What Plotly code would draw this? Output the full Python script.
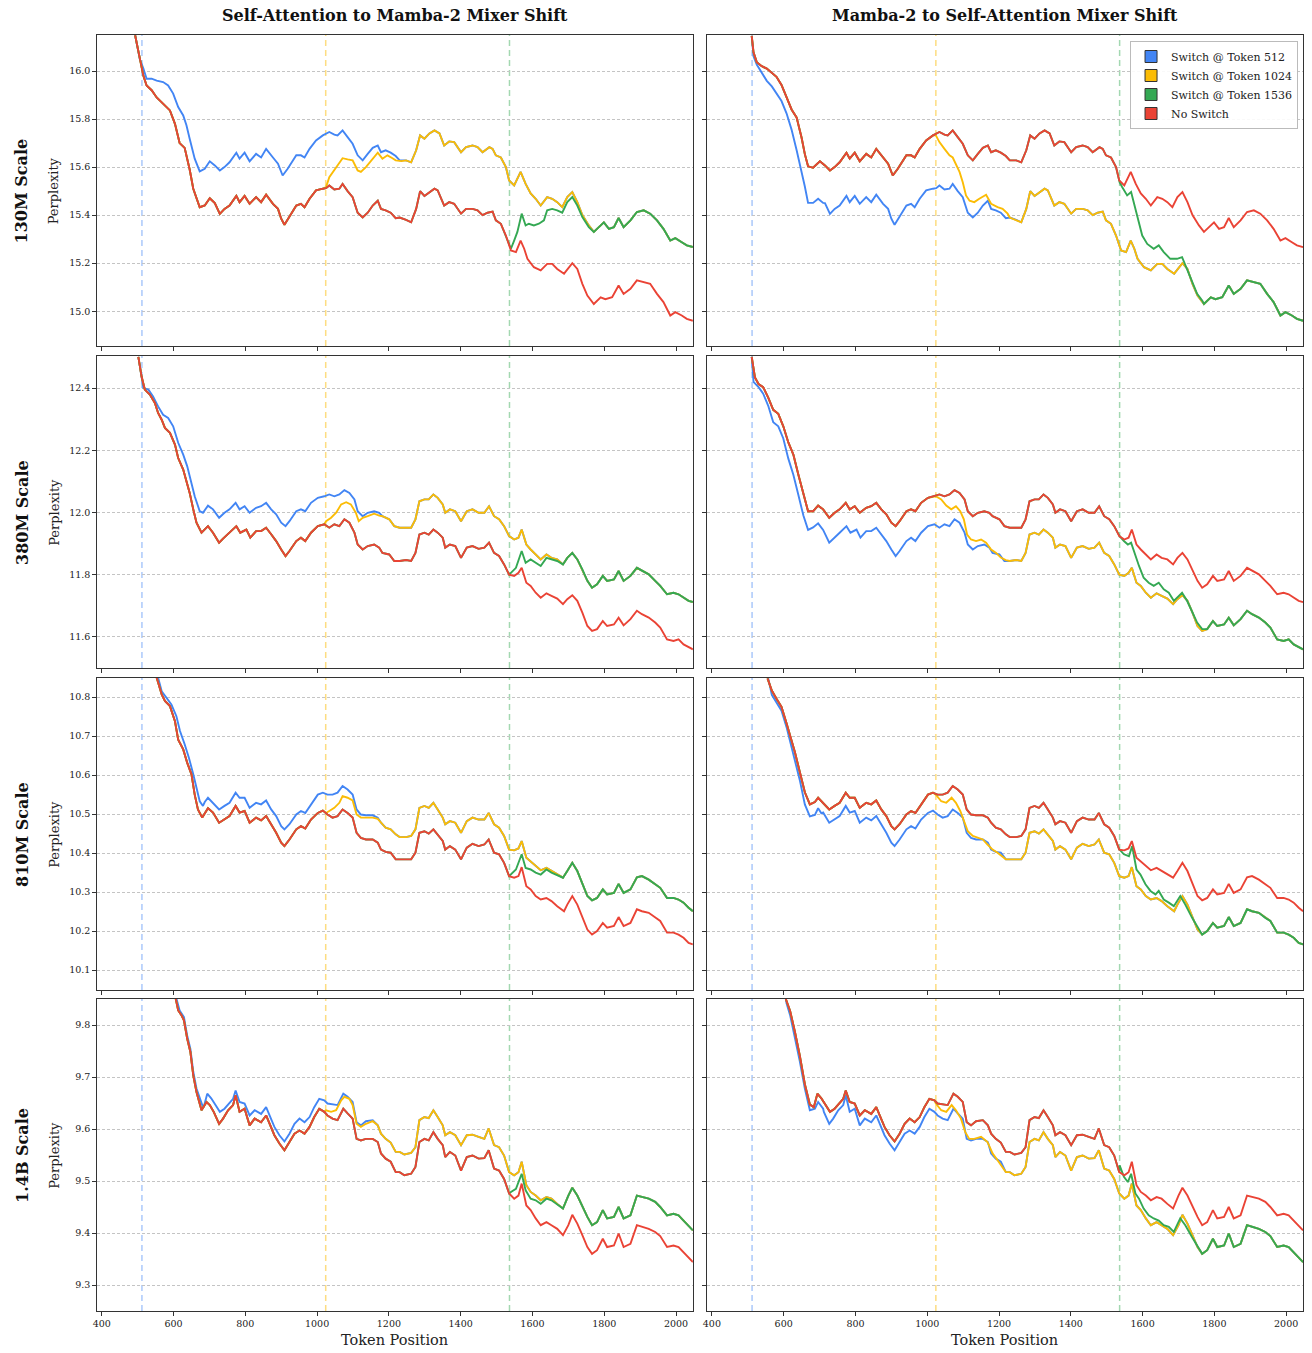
import plotly.graph_objects as go

# ---------------- data (token, perplexity) ----------------
# A = pure self-attention curve, B = pure Mamba-2 curve, L* = left-column switch transitions,
# R* = right-column switch transitions
A_130M = [(493,16.149),(506,16.05),(516,15.98),(525,15.94),(539,15.92),(553,15.89),(571,15.864),(590,15.836),(604,15.78),(617,15.70),(631,15.68),(645,15.59),(655,15.51),(664,15.47),(673,15.433),(687,15.44),(701,15.47),(715,15.45),(729,15.405),(742,15.426),(756,15.44),(775,15.48),(784,15.454),(798,15.48),(812,15.447),(830,15.475),(844,15.454),(858,15.485),(877,15.447),(891,15.426),(900,15.385),(909,15.36),(923,15.392),(942,15.44),(955,15.447),(965,15.433),(979,15.468),(997,15.503),(1016,15.51),(1025,15.512),(1034,15.523),(1048,15.507),(1062,15.51),(1071,15.53),(1085,15.50),(1099,15.475),(1113,15.41),(1127,15.39),(1141,15.41),(1155,15.44),(1169,15.46),(1178,15.426),(1191,15.42),(1205,15.41),(1219,15.387),(1230,15.39),(1248,15.38),(1262,15.37),(1276,15.426),(1287,15.50),(1299,15.48),(1313,15.496),(1327,15.51),(1336,15.503),(1354,15.44),(1368,15.454),(1382,15.447),(1401,15.406),(1415,15.426),(1433,15.426),(1447,15.42),(1461,15.40),(1475,15.41),(1489,15.415),(1498,15.378),(1512,15.364),(1526,15.315),(1540,15.253),(1554,15.246),(1567,15.294),(1577,15.26),(1586,15.218),(1604,15.183),(1623,15.17),(1641,15.197),(1655,15.197),(1669,15.176),(1688,15.156),(1711,15.20),(1725,15.176),(1739,15.114),(1753,15.065),(1771,15.03),(1790,15.058),(1803,15.05),(1822,15.058),(1840,15.107),(1854,15.072),(1873,15.093),(1891,15.128),(1910,15.12),(1928,15.114),(1947,15.072),(1965,15.038),(1984,14.982),(1998,14.996),(2016,14.982),(2030,14.968),(2047,14.96)]
B_130M = [(511,16.146),(516,16.078),(525,16.037),(539,16.02),(553,16.01),(567,15.993),(580,15.976),(594,15.942),(608,15.89),(622,15.84),(636,15.807),(650,15.722),(659,15.654),(668,15.603),(682,15.597),(701,15.624),(715,15.607),(729,15.586),(742,15.60),(756,15.62),(775,15.66),(784,15.635),(798,15.66),(812,15.624),(830,15.655),(844,15.64),(858,15.676),(877,15.64),(891,15.614),(904,15.565),(918,15.593),(942,15.649),(955,15.649),(965,15.64),(979,15.676),(997,15.711),(1016,15.732),(1034,15.746),(1048,15.735),(1057,15.732),(1071,15.753),(1085,15.725),(1099,15.697),(1113,15.649),(1127,15.628),(1141,15.655),(1155,15.68),(1169,15.69),(1178,15.662),(1191,15.67),(1205,15.66),(1219,15.646),(1230,15.628),(1248,15.628),(1262,15.62),(1276,15.67),(1287,15.732),(1299,15.718),(1313,15.74),(1327,15.753),(1341,15.74),(1354,15.69),(1368,15.707),(1382,15.704),(1401,15.662),(1415,15.683),(1433,15.69),(1447,15.683),(1461,15.662),(1480,15.683),(1489,15.676),(1498,15.649),(1512,15.64),(1526,15.60),(1535,15.544),(1549,15.524),(1567,15.58),(1581,15.53),(1595,15.49),(1609,15.468),(1623,15.44),(1641,15.475),(1655,15.468),(1669,15.454),(1683,15.433),(1697,15.475),(1711,15.496),(1725,15.454),(1739,15.40),(1757,15.357),(1771,15.33),(1785,15.35),(1799,15.37),(1813,15.343),(1827,15.35),(1840,15.388),(1854,15.35),(1873,15.378),(1891,15.413),(1910,15.42),(1928,15.406),(1947,15.378),(1965,15.343),(1984,15.294),(1998,15.304),(2016,15.287),(2030,15.274),(2047,15.267)]
L512_130M = [(516,16.01),(525,15.968),(539,15.968),(553,15.96),(571,15.954),(585,15.94),(599,15.906),(613,15.85),(627,15.815),(636,15.774),(645,15.718),(659,15.635),(673,15.582),(687,15.593)]
L1024_130M = [(1025,15.517),(1034,15.558),(1048,15.586),(1062,15.614),(1071,15.637),(1085,15.632),(1099,15.628),(1113,15.586),(1122,15.58),(1136,15.60),(1155,15.635),(1169,15.66),(1182,15.635),(1196,15.649),(1210,15.637),(1219,15.628),(1235,15.625)]
L1536_130M = [(1540,15.26),(1549,15.294),(1558,15.33),(1570,15.406),(1581,15.357),(1590,15.364),(1604,15.357),(1618,15.364),(1632,15.378),(1641,15.42),(1655,15.426),(1669,15.42),(1683,15.41),(1697,15.454),(1711,15.475),(1725,15.44),(1739,15.392),(1757,15.35)]
R512_130M = [(516,16.061),(525,16.027),(539,15.993),(553,15.959),(567,15.936),(580,15.908),(594,15.875),(608,15.824),(622,15.756),(636,15.671),(650,15.586),(659,15.519),(668,15.451),(682,15.451),(696,15.468),(710,15.451)]
R1024_130M = [(1024,15.732),(1034,15.704),(1048,15.676),(1062,15.649),(1071,15.64),(1080,15.614),(1090,15.58),(1099,15.537),(1108,15.482),(1118,15.46),(1131,15.454),(1145,15.468),(1164,15.485),(1178,15.447),(1196,15.433),(1210,15.426),(1224,15.406)]
R1536_130M = [(1536,15.537),(1543,15.517),(1557,15.482),(1568,15.496),(1580,15.426),(1590,15.364),(1599,15.315),(1613,15.28),(1631,15.26),(1645,15.274),(1659,15.246),(1677,15.218),(1696,15.218),(1710,15.225),(1724,15.176),(1738,15.12),(1752,15.072),(1766,15.044)]

A_380M = [(502,12.50),(511,12.437),(520,12.395),(534,12.379),(548,12.352),(557,12.32),(567,12.298),(576,12.272),(590,12.256),(604,12.218),(613,12.175),(627,12.138),(636,12.10),(645,12.063),(655,12.01),(664,11.967),(678,11.935),(696,11.956),(710,11.935),(727,11.903),(738,11.916),(756,11.935),(775,11.956),(786,11.935),(803,11.945),(814,11.919),(830,11.94),(844,11.94),(858,11.951),(872,11.93),(886,11.908),(900,11.881),(912,11.86),(923,11.876),(942,11.908),(955,11.919),(967,11.908),(983,11.935),(1002,11.956),(1020,11.962),(1034,11.951),(1048,11.962),(1062,11.956),(1076,11.978),(1090,11.967),(1104,11.935),(1113,11.897),(1127,11.881),(1141,11.892),(1159,11.897),(1173,11.887),(1182,11.87),(1201,11.865),(1215,11.844),(1230,11.844),(1248,11.847),(1262,11.844),(1274,11.87),(1285,11.929),(1299,11.935),(1311,11.929),(1324,11.945),(1336,11.935),(1350,11.919),(1357,11.887),(1370,11.897),(1385,11.892),(1401,11.854),(1417,11.887),(1433,11.892),(1450,11.883),(1466,11.887),(1479,11.903),(1493,11.87),(1507,11.86),(1521,11.833),(1535,11.80),(1549,11.796),(1561,11.806),(1570,11.822),(1583,11.774),(1595,11.764),(1609,11.742),(1623,11.726),(1639,11.74),(1653,11.732),(1669,11.723),(1685,11.705),(1697,11.721),(1711,11.734),(1725,11.716),(1739,11.678),(1753,11.635),(1766,11.619),(1780,11.625),(1796,11.651),(1808,11.635),(1827,11.64),(1840,11.662),(1854,11.637),(1873,11.657),(1891,11.684),(1905,11.673),(1924,11.662),(1942,11.646),(1956,11.63),(1975,11.592),(1993,11.587),(2007,11.592),(2021,11.576),(2035,11.566),(2047,11.56)]
B_380M = [(511,12.50),(520,12.434),(530,12.413),(543,12.403),(557,12.369),(571,12.33),(585,12.317),(599,12.277),(613,12.225),(627,12.186),(641,12.121),(655,12.056),(668,12.004),(682,12.004),(696,12.022),(710,12.01),(727,11.983),(742,11.999),(756,12.01),(773,12.031),(784,12.01),(798,12.02),(812,11.999),(830,12.015),(844,12.02),(858,12.031),(872,12.01),(886,11.994),(900,11.967),(912,11.956),(923,11.972),(942,12.004),(955,12.01),(967,12.004),(983,12.031),(1002,12.047),(1020,12.052),(1034,12.058),(1048,12.052),(1062,12.058),(1076,12.072),(1090,12.063),(1104,12.042),(1113,12.004),(1127,11.988),(1141,11.999),(1159,12.004),(1173,11.999),(1182,11.988),(1201,11.978),(1215,11.956),(1230,11.951),(1248,11.951),(1262,11.951),(1274,11.978),(1285,12.036),(1299,12.042),(1311,12.042),(1324,12.058),(1336,12.047),(1350,12.026),(1357,11.999),(1370,12.01),(1385,12.004),(1401,11.972),(1417,12.004),(1433,12.01),(1450,11.999),(1466,11.999),(1479,12.02),(1493,11.988),(1507,11.978),(1521,11.956),(1535,11.924),(1549,11.913),(1561,11.919),(1570,11.945),(1583,11.897),(1595,11.881),(1609,11.865),(1623,11.849),(1639,11.865),(1653,11.854),(1669,11.849),(1685,11.833),(1697,11.854),(1711,11.87),(1725,11.849),(1739,11.817),(1753,11.78),(1766,11.758),(1780,11.769),(1796,11.796),(1808,11.78),(1827,11.785),(1840,11.812),(1854,11.78),(1873,11.796),(1891,11.822),(1905,11.812),(1924,11.801),(1942,11.78),(1956,11.764),(1975,11.737),(1993,11.742),(2007,11.737),(2021,11.726),(2035,11.716),(2047,11.712)]
L512_380M = [(516,12.40),(530,12.395),(543,12.373),(557,12.341),(571,12.314),(585,12.304),(599,12.277),(613,12.224),(627,12.186),(638,12.149),(647,12.106),(659,12.052),(673,12.004),(682,11.999)]
L1024_380M = [(1025,11.972),(1039,11.983),(1053,11.999),(1067,12.026),(1081,12.033),(1094,12.026),(1108,11.999),(1116,11.972),(1127,11.983),(1141,11.988),(1159,11.996),(1173,11.99)]
L1536_380M = [(1540,11.806),(1554,11.822),(1570,11.876),(1581,11.838),(1595,11.849),(1609,11.838),(1623,11.828),(1639,11.854),(1653,11.849),(1669,11.844)]
R512_380M = [(516,12.42),(530,12.403),(543,12.382),(557,12.343),(571,12.29),(585,12.277),(599,12.238),(613,12.173),(627,12.121),(641,12.056),(655,11.99),(668,11.944),(682,11.952),(696,11.965),(710,11.944)]
R1024_380M = [(1024,12.052),(1039,12.042),(1053,12.022),(1067,12.01),(1080,12.02),(1092,12.004),(1102,11.978),(1111,11.929),(1122,11.913),(1136,11.908),(1150,11.913),(1164,11.903),(1178,11.881),(1192,11.87),(1205,11.855),(1219,11.847)]
R1536_380M = [(1536,11.924),(1548,11.908),(1559,11.897),(1568,11.903),(1580,11.86),(1590,11.828),(1603,11.79),(1617,11.774),(1631,11.764),(1645,11.774),(1659,11.753),(1673,11.742),(1687,11.716),(1701,11.732),(1710,11.742),(1724,11.716),(1738,11.678),(1752,11.646),(1766,11.625)]

A_810M = [(553,10.85),(567,10.807),(576,10.79),(590,10.777),(604,10.738),(613,10.691),(627,10.666),(638,10.632),(650,10.602),(659,10.55),(668,10.512),(680,10.491),(696,10.515),(710,10.504),(727,10.478),(742,10.486),(756,10.495),(773,10.521),(784,10.504),(798,10.508),(812,10.478),(830,10.491),(844,10.484),(858,10.495),(872,10.474),(886,10.452),(900,10.427),(909,10.418),(923,10.435),(942,10.461),(955,10.469),(967,10.463),(983,10.486),(1002,10.503),(1016,10.509),(1029,10.499),(1043,10.491),(1057,10.495),(1071,10.512),(1085,10.503),(1099,10.491),(1110,10.452),(1122,10.439),(1136,10.435),(1155,10.435),(1169,10.427),(1178,10.409),(1191,10.403),(1205,10.401),(1219,10.384),(1230,10.384),(1248,10.384),(1262,10.384),(1274,10.401),(1285,10.452),(1299,10.456),(1311,10.45),(1324,10.461),(1336,10.448),(1350,10.431),(1357,10.409),(1370,10.418),(1385,10.409),(1401,10.384),(1417,10.414),(1433,10.424),(1450,10.418),(1466,10.422),(1478,10.435),(1493,10.401),(1507,10.397),(1521,10.375),(1535,10.341),(1549,10.337),(1561,10.341),(1570,10.364),(1583,10.315),(1595,10.307),(1609,10.29),(1623,10.281),(1639,10.285),(1653,10.277),(1669,10.264),(1688,10.251),(1697,10.268),(1711,10.29),(1725,10.268),(1739,10.234),(1753,10.204),(1766,10.191),(1780,10.2),(1796,10.221),(1808,10.209),(1827,10.213),(1840,10.236),(1854,10.213),(1873,10.221),(1891,10.256),(1905,10.251),(1924,10.247),(1942,10.234),(1956,10.226),(1975,10.196),(1993,10.196),(2007,10.191),(2021,10.183),(2035,10.17),(2047,10.166)]
B_810M = [(555,10.848),(567,10.817),(580,10.796),(594,10.775),(608,10.733),(618,10.702),(631,10.66),(645,10.608),(659,10.556),(673,10.525),(687,10.531),(696,10.542),(710,10.529),(727,10.512),(742,10.521),(756,10.529),(773,10.555),(784,10.542),(798,10.542),(812,10.516),(830,10.529),(844,10.525),(858,10.535),(872,10.512),(886,10.495),(900,10.469),(909,10.461),(923,10.474),(942,10.499),(955,10.508),(967,10.503),(983,10.525),(1002,10.55),(1016,10.555),(1029,10.55),(1043,10.55),(1057,10.555),(1071,10.572),(1085,10.563),(1099,10.55),(1110,10.512),(1122,10.499),(1136,10.497),(1155,10.497),(1169,10.491),(1178,10.478),(1191,10.465),(1205,10.461),(1219,10.448),(1230,10.441),(1248,10.441),(1262,10.444),(1274,10.461),(1285,10.516),(1299,10.521),(1311,10.516),(1324,10.529),(1336,10.512),(1350,10.491),(1357,10.474),(1370,10.482),(1385,10.478),(1401,10.452),(1417,10.482),(1433,10.491),(1450,10.486),(1466,10.486),(1478,10.503),(1493,10.474),(1507,10.465),(1521,10.444),(1535,10.409),(1549,10.407),(1561,10.412),(1570,10.431),(1583,10.388),(1595,10.379),(1609,10.367),(1623,10.356),(1639,10.362),(1653,10.354),(1669,10.345),(1685,10.337),(1697,10.354),(1711,10.375),(1725,10.354),(1739,10.32),(1753,10.29),(1766,10.279),(1780,10.285),(1796,10.307),(1808,10.294),(1827,10.298),(1840,10.321),(1854,10.298),(1873,10.307),(1891,10.338),(1905,10.341),(1924,10.332),(1942,10.32),(1956,10.311),(1975,10.285),(1993,10.285),(2007,10.281),(2021,10.273),(2035,10.26),(2047,10.251)]
L512_810M = [(557,10.85),(567,10.815),(580,10.798),(594,10.781),(608,10.751),(618,10.713),(631,10.679),(643,10.644),(655,10.602),(664,10.563),(673,10.533),(682,10.521)]
L1024_810M = [(1025,10.503),(1034,10.508),(1048,10.516),(1062,10.529),(1071,10.546),(1085,10.542),(1099,10.535),(1110,10.499),(1122,10.491),(1136,10.491),(1155,10.491),(1169,10.488)]
L1536_810M = [(1540,10.345),(1554,10.358),(1570,10.397),(1581,10.362),(1595,10.358),(1609,10.35),(1623,10.345),(1639,10.358),(1653,10.35),(1669,10.344)]
R512_810M = [(557,10.848),(567,10.806),(580,10.785),(594,10.765),(608,10.723),(618,10.685),(631,10.64),(645,10.587),(659,10.525),(673,10.494),(687,10.498),(696,10.515),(705,10.502)]
R1024_810M = [(1024,10.55),(1039,10.533),(1053,10.529),(1068,10.542),(1080,10.529),(1092,10.508),(1104,10.478),(1113,10.456),(1127,10.444),(1141,10.439),(1155,10.435),(1168,10.422),(1182,10.409),(1196,10.401),(1210,10.39)]
R1536_810M = [(1536,10.409),(1548,10.397),(1562,10.392),(1571,10.418),(1583,10.358),(1594,10.345),(1608,10.32),(1622,10.303),(1636,10.294),(1645,10.303),(1659,10.281),(1673,10.273),(1687,10.264),(1705,10.29),(1719,10.268),(1738,10.234),(1756,10.204)]

A_14B = [(606,9.851),(613,9.828),(622,9.819),(629,9.809),(638,9.774),(647,9.748),(655,9.703),(664,9.671),(678,9.636),(692,9.652),(701,9.646),(712,9.633),(727,9.61),(738,9.62),(752,9.636),(766,9.646),(773,9.665),(784,9.633),(798,9.639),(812,9.607),(826,9.62),(844,9.613),(858,9.626),(869,9.607),(881,9.588),(895,9.572),(909,9.559),(923,9.575),(937,9.591),(951,9.597),(965,9.591),(979,9.604),(992,9.623),(1006,9.639),(1020,9.633),(1029,9.626),(1043,9.62),(1057,9.617),(1073,9.639),(1085,9.63),(1099,9.62),(1110,9.581),(1122,9.578),(1136,9.581),(1155,9.581),(1169,9.575),(1178,9.553),(1191,9.543),(1205,9.537),(1219,9.517),(1230,9.517),(1243,9.511),(1262,9.514),(1274,9.527),(1285,9.575),(1299,9.581),(1311,9.578),(1324,9.594),(1336,9.581),(1350,9.569),(1357,9.546),(1370,9.556),(1385,9.549),(1401,9.52),(1417,9.546),(1433,9.549),(1450,9.543),(1466,9.544),(1478,9.559),(1493,9.524),(1507,9.52),(1521,9.504),(1535,9.476),(1549,9.466),(1561,9.472),(1570,9.495),(1583,9.453),(1595,9.444),(1609,9.428),(1623,9.415),(1639,9.421),(1653,9.415),(1669,9.408),(1685,9.396),(1700,9.415),(1711,9.435),(1725,9.418),(1739,9.396),(1753,9.373),(1766,9.36),(1780,9.367),(1796,9.389),(1808,9.373),(1827,9.376),(1840,9.399),(1854,9.373),(1873,9.379),(1891,9.415),(1905,9.412),(1924,9.408),(1942,9.402),(1956,9.394),(1975,9.373),(1993,9.376),(2007,9.373),(2021,9.363),(2035,9.351),(2047,9.344)]
B_14B = [(606,9.85),(618,9.827),(631,9.788),(645,9.741),(659,9.686),(673,9.647),(684,9.642),(694,9.668),(705,9.659),(717,9.646),(729,9.633),(742,9.639),(756,9.649),(766,9.658),(773,9.674),(784,9.652),(798,9.649),(812,9.626),(826,9.636),(844,9.629),(858,9.642),(869,9.623),(881,9.604),(895,9.588),(909,9.576),(923,9.591),(937,9.61),(951,9.62),(965,9.613),(979,9.623),(992,9.642),(1006,9.658),(1020,9.655),(1029,9.649),(1043,9.647),(1057,9.646),(1073,9.668),(1085,9.662),(1099,9.652),(1110,9.613),(1122,9.607),(1136,9.615),(1155,9.617),(1169,9.607),(1178,9.591),(1191,9.581),(1205,9.574),(1219,9.556),(1230,9.556),(1243,9.551),(1262,9.554),(1274,9.565),(1285,9.617),(1299,9.623),(1311,9.621),(1324,9.636),(1336,9.623),(1350,9.607),(1357,9.588),(1370,9.594),(1385,9.588),(1401,9.569),(1417,9.588),(1433,9.589),(1450,9.585),(1466,9.581),(1478,9.601),(1493,9.569),(1507,9.565),(1521,9.549),(1535,9.517),(1549,9.511),(1561,9.517),(1570,9.537),(1583,9.492),(1595,9.479),(1609,9.472),(1623,9.463),(1639,9.469),(1653,9.466),(1669,9.456),(1685,9.447),(1700,9.472),(1711,9.487),(1725,9.472),(1739,9.45),(1753,9.431),(1766,9.415),(1780,9.421),(1796,9.444),(1808,9.428),(1827,9.431),(1840,9.45),(1854,9.428),(1873,9.434),(1891,9.472),(1905,9.469),(1924,9.466),(1942,9.46),(1956,9.45),(1975,9.434),(1993,9.437),(2007,9.434),(2021,9.424),(2035,9.412),(2047,9.405)]
L512_14B = [(608,9.851),(617,9.828),(629,9.815),(638,9.78),(647,9.754),(655,9.71),(664,9.678),(680,9.646)]
L1024_14B = [(1025,9.636),(1039,9.633),(1053,9.636),(1067,9.655),(1076,9.662),(1090,9.658),(1099,9.646),(1110,9.61),(1122,9.604),(1136,9.61),(1155,9.615),(1169,9.607)]
L1536_14B = [(1540,9.479),(1554,9.485),(1570,9.514),(1581,9.482),(1595,9.466),(1609,9.463),(1623,9.456),(1639,9.466),(1653,9.463),(1669,9.455)]
R512_14B = [(608,9.842),(618,9.819),(631,9.777),(645,9.73),(659,9.678),(673,9.636),(687,9.639),(696,9.652),(710,9.639)]
R1024_14B = [(1024,9.649),(1039,9.636),(1053,9.633),(1068,9.646),(1080,9.636),(1094,9.62),(1106,9.594),(1117,9.581),(1131,9.581),(1150,9.585),(1168,9.575),(1182,9.553),(1196,9.54),(1210,9.527)]
R1536_14B = [(1536,9.53),(1548,9.508),(1559,9.498),(1568,9.514),(1580,9.476),(1590,9.466),(1603,9.447),(1617,9.434),(1631,9.428),(1645,9.424),(1659,9.415),(1673,9.412),(1687,9.402),(1705,9.428),(1719,9.415),(1738,9.392),(1756,9.373)]

SCALE_LABELS = ["130M Scale", "380M Scale", "810M Scale", "1.4B Scale"]
COL_TITLES = ["Self-Attention to Mamba-2 Mixer Shift", "Mamba-2 to Self-Attention Mixer Shift"]
SERIES_NAMES = ["Switch @ Token 512", "Switch @ Token 1024", "Switch @ Token 1536", "No Switch"]
SWITCH_TOKENS = [512, 1024, 1536]
X_TICKS = [400, 600, 800, 1000, 1200, 1400, 1600, 1800, 2000]

# ---------------- styling ----------------
COLORS = ["#4285F4", "#FBBC05", "#34A853", "#EA4335"]
VLINE_COLORS = ["rgba(66,133,244,0.45)", "rgba(251,188,5,0.5)", "rgba(52,168,83,0.45)"]
FONT = "DejaVu Serif"
W, H = 1312, 1353
COL_PX = [(93, 691), (705, 1303)]
ROW_PX = [(35, 346), (356, 668), (678, 990), (999, 1311)]
Y_RANGES = [(14.855, 16.15), (11.50, 12.503), (10.049, 10.849), (9.25, 9.85)]
Y_DTICK = [0.2, 0.2, 0.1, 0.1]
Y_TICK0 = [15.0, 11.6, 10.1, 9.3]
X_RANGE = (386, 2047)

DATA = [
    (A_130M, B_130M, [L512_130M, L1024_130M, L1536_130M], [R512_130M, R1024_130M, R1536_130M]),
    (A_380M, B_380M, [L512_380M, L1024_380M, L1536_380M], [R512_380M, R1024_380M, R1536_380M]),
    (A_810M, B_810M, [L512_810M, L1024_810M, L1536_810M], [R512_810M, R1024_810M, R1536_810M]),
    (A_14B, B_14B, [L512_14B, L1024_14B, L1536_14B], [R512_14B, R1024_14B, R1536_14B]),
]


def switched(before, trans, after):
    t0, t1 = trans[0][0], trans[-1][0]
    return [p for p in before if p[0] < t0] + list(trans) + [p for p in after if p[0] > t1]


def ax_name(kind, idx):
    return kind if idx == 1 else f"{kind}{idx}"


fig = go.Figure()
layout = dict(width=W, height=H, margin=dict(l=0, r=0, t=0, b=0),
              plot_bgcolor="white", paper_bgcolor="white",
              font=dict(family=FONT, color="#222"), showlegend=True)
shapes, annotations = [], []

for r in range(4):
    A, B, Ltr, Rtr = DATA[r]
    for c in range(2):
        idx = r * 2 + c + 1
        xa, ya = ax_name("x", idx), ax_name("y", idx)
        if c == 0:
            base, other, trans = A, B, Ltr
        else:
            base, other, trans = B, A, Rtr
        curves = [switched(base, trans[k], other) for k in range(3)] + [base]
        for k, pts in enumerate(curves):
            fig.add_trace(go.Scatter(
                x=[p[0] for p in pts], y=[p[1] for p in pts], mode="lines",
                line=dict(color=COLORS[k], width=1.9), xaxis=xa, yaxis=ya,
                showlegend=False, hoverinfo="skip"))
        x0, x1 = COL_PX[c]
        y0, y1 = ROW_PX[r]
        xax = dict(
            domain=[x0 / W, x1 / W], range=list(X_RANGE), anchor=ya,
            tickvals=X_TICKS, showticklabels=(r == 3), ticks="outside", ticklen=3.5,
            tickcolor="#333", tickfont=dict(size=9.5, family=FONT, color="#222"),
            showgrid=False, zeroline=False, showline=True, mirror=True,
            linecolor="#333", linewidth=1)
        if r < 3:
            xax["matches"] = f"x{7 + c}"
        layout[ax_name("xaxis", idx)] = xax
        layout[ax_name("yaxis", idx)] = dict(
            domain=[1 - y1 / H, 1 - y0 / H], range=list(Y_RANGES[r]), anchor=xa,
            tick0=Y_TICK0[r], dtick=Y_DTICK[r], tickformat=".1f",
            showticklabels=(c == 0), ticks="outside", ticklen=3.5, tickcolor="#333",
            tickfont=dict(size=9.5, family=FONT, color="#222"),
            showgrid=True, gridcolor="#c4c4c4", gridwidth=0.8, griddash="3px,2px",
            zeroline=False, showline=True, mirror=True, linecolor="#333", linewidth=1)
        for k, t in enumerate(SWITCH_TOKENS):
            shapes.append(dict(type="line", xref=xa, yref=f"{ya} domain", x0=t, x1=t,
                               y0=0, y1=1, line=dict(color=VLINE_COLORS[k], width=1.5, dash="6px,4px"),
                               layer="below"))
    yc = 1 - (ROW_PX[r][0] + ROW_PX[r][1]) / 2 / H
    annotations.append(dict(text=f"<b>{SCALE_LABELS[r]}</b>", x=18 / W, y=yc, xref="paper", yref="paper",
                            textangle=-90, showarrow=False, font=dict(size=16, family=FONT, color="#111"),
                            xanchor="center", yanchor="middle"))
    annotations.append(dict(text="Perplexity", x=50 / W, y=yc, xref="paper", yref="paper",
                            textangle=-90, showarrow=False, font=dict(size=13, family=FONT, color="#222"),
                            xanchor="center", yanchor="middle"))

for c in range(2):
    xc = (COL_PX[c][0] + COL_PX[c][1]) / 2 / W
    annotations.append(dict(text=f"<b>{COL_TITLES[c]}</b>", x=xc, y=1 - 15 / H, xref="paper", yref="paper",
                            showarrow=False, font=dict(size=16, family=FONT, color="#111"),
                            xanchor="center", yanchor="middle"))
    annotations.append(dict(text="Token Position", x=xc, y=1 - 1340 / H, xref="paper", yref="paper",
                            showarrow=False, font=dict(size=14.5, family=FONT, color="#222"),
                            xanchor="center", yanchor="middle"))

for k in range(4):
    fig.add_trace(go.Scatter(x=[None], y=[None], mode="markers", name=SERIES_NAMES[k],
                             marker=dict(symbol="square", size=12, color=COLORS[k],
                                         line=dict(color="#333", width=1)),
                             xaxis="x2", yaxis="y2", showlegend=True))

layout["legend"] = dict(x=1298 / W, y=1 - 41 / H, xanchor="right", yanchor="top",
                        bgcolor="rgba(255,255,255,0.9)", bordercolor="#bbbbbb", borderwidth=1,
                        font=dict(size=11, family=FONT, color="#222"), tracegroupgap=0,
                        itemwidth=30)
layout["shapes"] = shapes
layout["annotations"] = annotations
fig.update_layout(**layout)
fig.write_html("out.html")
